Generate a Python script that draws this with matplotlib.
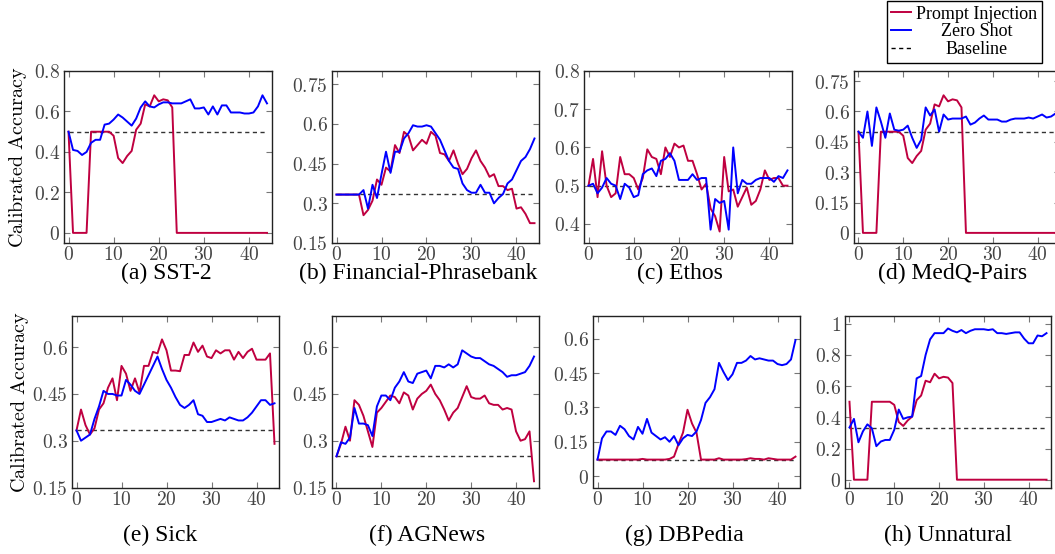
import matplotlib
matplotlib.use("Agg")
import matplotlib.pyplot as plt
from matplotlib.lines import Line2D
from matplotlib.ticker import FuncFormatter

plt.rcParams["mathtext.fontset"] = "cm"

steps = list(range(45))

# prompt injection curve shared by SST-2, MedQ-Pairs and Unnatural
pi_collapse = [0.50, 0, 0, 0, 0, 0.50, 0.50, 0.50, 0.50, 0.50,
               0.48, 0.37, 0.345, 0.38, 0.405, 0.51, 0.54, 0.635, 0.625, 0.68,
               0.65, 0.66, 0.655, 0.62, 0, 0, 0, 0, 0, 0,
               0, 0, 0, 0, 0, 0, 0, 0, 0, 0,
               0, 0, 0, 0, 0]

zs_sst2 = [0.50, 0.41, 0.405, 0.385, 0.40, 0.445, 0.46, 0.46, 0.535, 0.54,
           0.56, 0.585, 0.57, 0.55, 0.53, 0.565, 0.62, 0.65, 0.625, 0.62,
           0.635, 0.645, 0.645, 0.64, 0.64, 0.64, 0.65, 0.66, 0.615, 0.615,
           0.62, 0.585, 0.625, 0.585, 0.63, 0.63, 0.595, 0.595, 0.595, 0.59,
           0.59, 0.595, 0.625, 0.68, 0.64]

pi_fin = [0.333, 0.333, 0.333, 0.333, 0.333, 0.333, 0.255, 0.275, 0.31, 0.39,
          0.37, 0.435, 0.42, 0.52, 0.49, 0.57, 0.555, 0.50, 0.52, 0.54,
          0.525, 0.57, 0.555, 0.49, 0.485, 0.46, 0.50, 0.45, 0.41, 0.43,
          0.47, 0.50, 0.46, 0.435, 0.40, 0.41, 0.365, 0.365, 0.35, 0.355,
          0.28, 0.285, 0.26, 0.225, 0.225]
zs_fin = [0.333, 0.333, 0.333, 0.333, 0.333, 0.333, 0.35, 0.28, 0.37, 0.32,
          0.41, 0.495, 0.415, 0.495, 0.495, 0.545, 0.565, 0.595, 0.59, 0.59,
          0.595, 0.59, 0.565, 0.54, 0.50, 0.46, 0.435, 0.43, 0.375, 0.35,
          0.34, 0.34, 0.37, 0.34, 0.34, 0.30, 0.32, 0.335, 0.375, 0.39,
          0.425, 0.46, 0.475, 0.505, 0.545]

pi_ethos = [0.50, 0.57, 0.47, 0.59, 0.50, 0.47, 0.48, 0.575, 0.53, 0.53,
            0.52, 0.49, 0.52, 0.595, 0.575, 0.57, 0.53, 0.60, 0.575, 0.61,
            0.60, 0.605, 0.565, 0.565, 0.53, 0.49, 0.505, 0.44, 0.42, 0.38,
            0.575, 0.485, 0.49, 0.445, 0.47, 0.495, 0.45, 0.46, 0.49, 0.54,
            0.515, 0.52, 0.52, 0.50, 0.50]
zs_ethos = [0.50, 0.505, 0.48, 0.495, 0.52, 0.505, 0.50, 0.465, 0.505, 0.495,
            0.47, 0.475, 0.53, 0.54, 0.545, 0.525, 0.565, 0.57, 0.585, 0.565,
            0.515, 0.515, 0.515, 0.53, 0.515, 0.52, 0.52, 0.385, 0.465, 0.455,
            0.46, 0.385, 0.60, 0.48, 0.515, 0.505, 0.505, 0.515, 0.52, 0.52,
            0.52, 0.51, 0.525, 0.52, 0.54]

zs_medq = [0.50, 0.47, 0.60, 0.43, 0.62, 0.55, 0.47, 0.59, 0.51, 0.505,
           0.51, 0.53, 0.47, 0.42, 0.46, 0.62, 0.58, 0.61, 0.50, 0.585,
           0.56, 0.565, 0.565, 0.565, 0.575, 0.535, 0.545, 0.565, 0.58, 0.56,
           0.56, 0.56, 0.55, 0.55, 0.56, 0.565, 0.565, 0.565, 0.57, 0.565,
           0.575, 0.585, 0.57, 0.575, 0.59]

pi_sick = [0.333, 0.40, 0.35, 0.32, 0.34, 0.40, 0.42, 0.47, 0.50, 0.43,
           0.54, 0.515, 0.46, 0.50, 0.455, 0.54, 0.54, 0.585, 0.58, 0.625,
           0.59, 0.525, 0.525, 0.523, 0.575, 0.575, 0.615, 0.585, 0.605, 0.57,
           0.565, 0.59, 0.58, 0.59, 0.59, 0.56, 0.585, 0.565, 0.585, 0.595,
           0.56, 0.56, 0.56, 0.58, 0.29]
zs_sick = [0.333, 0.30, 0.31, 0.32, 0.37, 0.41, 0.46, 0.45, 0.45, 0.445,
           0.445, 0.495, 0.48, 0.46, 0.45, 0.48, 0.51, 0.54, 0.57, 0.53,
           0.495, 0.47, 0.44, 0.415, 0.405, 0.415, 0.43, 0.385, 0.38, 0.36,
           0.36, 0.365, 0.37, 0.365, 0.375, 0.37, 0.365, 0.365, 0.375, 0.39,
           0.41, 0.43, 0.43, 0.415, 0.42]

pi_ag = [0.25, 0.29, 0.345, 0.30, 0.43, 0.415, 0.38, 0.33, 0.28, 0.39,
         0.405, 0.425, 0.445, 0.44, 0.42, 0.455, 0.445, 0.40, 0.435, 0.45,
         0.46, 0.48, 0.45, 0.43, 0.40, 0.365, 0.39, 0.405, 0.44, 0.475,
         0.44, 0.435, 0.435, 0.445, 0.42, 0.415, 0.415, 0.40, 0.405, 0.40,
         0.33, 0.30, 0.305, 0.33, 0.17]
zs_ag = [0.25, 0.295, 0.29, 0.31, 0.405, 0.355, 0.355, 0.35, 0.315, 0.41,
         0.445, 0.445, 0.43, 0.47, 0.49, 0.52, 0.49, 0.485, 0.515, 0.52,
         0.525, 0.50, 0.54, 0.54, 0.535, 0.545, 0.535, 0.545, 0.59, 0.58,
         0.57, 0.565, 0.565, 0.555, 0.545, 0.54, 0.53, 0.52, 0.505, 0.51,
         0.51, 0.515, 0.52, 0.54, 0.57]

pi_dbp = [0.072, 0.072, 0.072, 0.072, 0.072, 0.072, 0.072, 0.072, 0.072, 0.072,
          0.075, 0.072, 0.072, 0.072, 0.072, 0.072, 0.075, 0.085, 0.14, 0.19,
          0.29, 0.23, 0.19, 0.072, 0.072, 0.072, 0.072, 0.078, 0.072, 0.072,
          0.072, 0.072, 0.072, 0.074, 0.078, 0.075, 0.075, 0.072, 0.078, 0.075,
          0.072, 0.072, 0.072, 0.072, 0.085]
zs_dbp = [0.072, 0.165, 0.195, 0.195, 0.18, 0.22, 0.205, 0.175, 0.16, 0.215,
          0.185, 0.25, 0.19, 0.175, 0.16, 0.17, 0.15, 0.175, 0.135, 0.165,
          0.18, 0.175, 0.195, 0.245, 0.32, 0.345, 0.38, 0.495, 0.455, 0.42,
          0.445, 0.495, 0.495, 0.505, 0.525, 0.51, 0.515, 0.51, 0.505, 0.505,
          0.49, 0.485, 0.49, 0.51, 0.595]

zs_unnat = [0.335, 0.39, 0.24, 0.31, 0.355, 0.33, 0.215, 0.245, 0.255, 0.255,
            0.32, 0.45, 0.39, 0.40, 0.405, 0.65, 0.665, 0.80, 0.90, 0.94,
            0.94, 0.94, 0.97, 0.955, 0.945, 0.96, 0.94, 0.955, 0.965, 0.965,
            0.965, 0.96, 0.965, 0.94, 0.94, 0.935, 0.94, 0.945, 0.945, 0.905,
            0.875, 0.875, 0.925, 0.92, 0.94]

captions = ["(a) SST-2", "(b) Financial-Phrasebank", "(c) Ethos", "(d) MedQ-Pairs",
            "(e) Sick", "(f) AGNews", "(g) DBPedia", "(h) Unnatural"]
prompt_inj = [pi_collapse, pi_fin, pi_ethos, pi_collapse, pi_sick, pi_ag, pi_dbp, pi_collapse]
zero_shot = [zs_sst2, zs_fin, zs_ethos, zs_medq, zs_sick, zs_ag, zs_dbp, zs_unnat]
baselines = [0.5, 1 / 3, 0.5, 0.5, 1 / 3, 0.25, 1 / 14, 1 / 3]
yticks = [[0, 0.2, 0.4, 0.6, 0.8], [0.15, 0.3, 0.45, 0.6, 0.75], [0.4, 0.5, 0.6, 0.7, 0.8],
          [0, 0.15, 0.3, 0.45, 0.6, 0.75], [0.15, 0.3, 0.45, 0.6], [0.15, 0.3, 0.45, 0.6],
          [0, 0.15, 0.3, 0.45, 0.6], [0, 0.2, 0.4, 0.6, 0.8, 1]]
ylims = [(-0.05, 0.8), (0.15, 0.8), (0.35, 0.8), (-0.05, 0.8),
         (0.15, 0.7), (0.15, 0.7), (-0.05, 0.7), (-0.05, 1.05)]

W, H = 1055, 554
RED = "#BF0040"
BLUE = "#0000FF"

# axes placement in pixels: (left, right, top, bottom)
boxes = [(64, 271.5, 71, 243), (332, 539, 71, 243), (584, 792, 71, 243), (854, 1060, 71, 243),
         (72, 279, 316, 487.5), (332, 538.5, 316, 487.5), (593, 800, 316, 487.5), (845, 1051, 316, 487.5)]
cap_x = [166, 418, 680, 953, 160, 427, 684, 948]

fig = plt.figure(figsize=(W / 100, H / 100), dpi=100)
fmt = FuncFormatter(lambda v, p: f"${v:g}$")

for i in range(8):
    l, r, t, b = boxes[i]
    ax = fig.add_axes([l / W, 1 - b / H, (r - l) / W, (b - t) / H])
    ax.plot(steps, prompt_inj[i], color=RED, lw=1.4, zorder=3)
    ax.plot(steps, zero_shot[i], color=BLUE, lw=1.4, zorder=4)
    ax.plot([steps[0], steps[-1]], [baselines[i]] * 2, color="#333333", lw=1.0,
            dashes=(3, 2.5), zorder=2)
    ax.set_xlim(-1, 45)
    ax.set_ylim(*ylims[i])
    ax.set_xticks([0, 10, 20, 30, 40])
    ax.set_yticks(yticks[i])
    ax.xaxis.set_major_formatter(fmt)
    ax.yaxis.set_major_formatter(fmt)
    ax.tick_params(direction="in", length=4, width=0.8, color="#777777",
                   top=True, right=True, labelsize=14, labelcolor="#444444", pad=3)
    ax.tick_params(axis="x", pad=1.5)
    for s in ax.spines.values():
        s.set_linewidth(1.0)
        s.set_color("#222222")
    cy = 273 if i < 4 else 535
    fig.text(cap_x[i] / W, 1 - cy / H, captions[i], ha="center", va="center",
             fontsize=17, family="Liberation Serif")

for lx, ly in [(18, 157), (20, 402)]:
    fig.text(lx / W, 1 - ly / H, r"$\mathrm{Calibrated\ Accuracy}$", rotation=90,
             ha="center", va="center", fontsize=14.5)

handles = [Line2D([], [], color=RED, lw=1.4),
           Line2D([], [], color=BLUE, lw=1.4),
           Line2D([], [], color="black", lw=1.0, dashes=(3, 2.5))]
leg = fig.legend(handles, ["Prompt Injection", "Zero Shot", "Baseline"],
                 loc="upper right", bbox_to_anchor=(1042 / W, 1 - 1 / H),
                 borderaxespad=0, fancybox=False, framealpha=1, edgecolor="black",
                 prop={"family": "Liberation Serif", "size": 13},
                 handlelength=1.1, handletextpad=0.3, labelspacing=0.05, borderpad=0.25)
leg.get_frame().set_linewidth(1.0)

# centre the legend labels like the original
renderer = fig.canvas.get_renderer()
texts = leg.get_texts()
widths = [t.get_window_extent(renderer).width for t in texts]
wmax = max(widths)
for t, w in zip(texts, widths):
    t.set_position(((wmax - w) / 2, 0))

fig.savefig("out.png", dpi=100)
